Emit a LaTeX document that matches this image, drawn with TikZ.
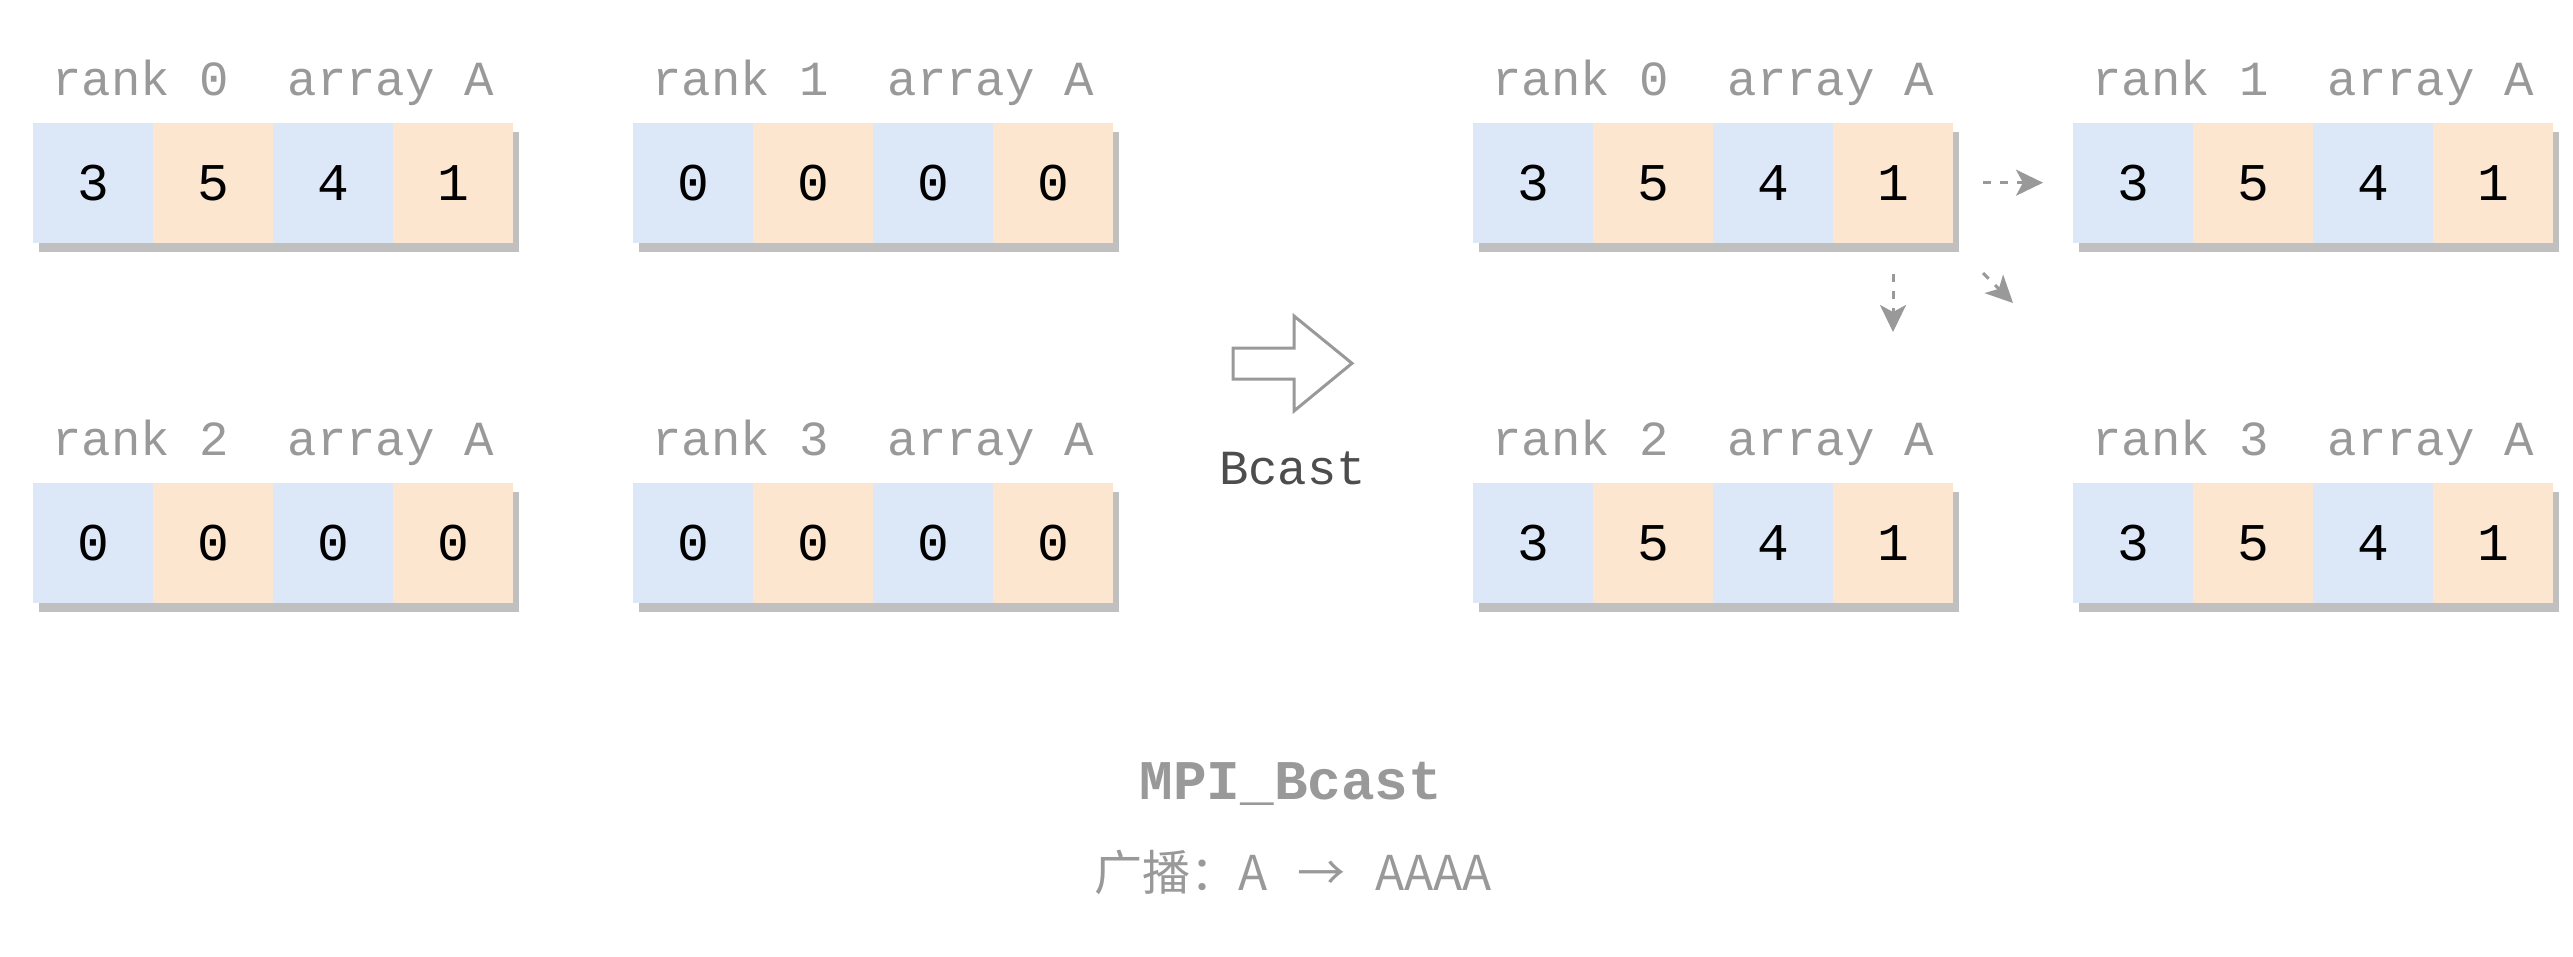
\documentclass[tikz,border=0pt]{standalone}
\usepackage{fontspec}
\usetikzlibrary{arrows.meta}
\newfontfamily\monofont{Liberation Mono}
\newfontfamily\cjkfont{Noto Sans CJK SC}
\definecolor{cellblue}{HTML}{DCE7F8}
\definecolor{cellorange}{HTML}{FCE6CF}
\definecolor{shadowgray}{HTML}{C0C0C0}
\definecolor{textgray}{HTML}{999999}
\definecolor{darktext}{HTML}{4D4D4D}

\newcommand\rankrow[5]{% #1 name, #2 x, #3 top y, #4 rank, #5 values
  \fill[shadowgray] (#2+6,#3+9) rectangle (#2+486,#3+129);
  \foreach \v [count=\i from 0] in {#5} {
    \pgfmathsetmacro\cx{#2+120*\i}
    \ifodd\i\relax \def\cc{cellorange}\else \def\cc{cellblue}\fi
    \node[cellstyle, fill=\cc] (#1c\i) at (\cx,#3) {\v};
  }
  \node[labelstyle] (#1lab) at (#2+240,#3-28) {rank~#4~~array~A};
}

\begin{document}
\begin{tikzpicture}[x=1pt,y=-1pt,
  cellstyle/.style={minimum width=120pt, minimum height=120pt, inner sep=0pt,
    outer sep=0pt, anchor=north west, text=black,
    font=\monofont\fontsize{53}{53}\selectfont},
  labelstyle/.style={anchor=base, inner sep=0pt, text=textgray,
    font=\monofont\fontsize{49}{49}\selectfont},
  dasharrow/.style={draw=textgray, line width=3pt, dash pattern=on 8pt off 9pt,
    -{Stealth[length=27pt,width=26pt,inset=7pt,fill=textgray]}}
]
\fill[white] (0,0) rectangle (2573,956);
\useasboundingbox (0,0) rectangle (2573,956);

% left side (before)
\rankrow{La}{33}{123}{0}{3,5,4,1}
\rankrow{Lb}{633}{123}{1}{0,0,0,0}
\rankrow{Lc}{33}{483}{2}{0,0,0,0}
\rankrow{Ld}{633}{483}{3}{0,0,0,0}

% right side (after)
\rankrow{Ra}{1473}{123}{0}{3,5,4,1}
\rankrow{Rb}{2073}{123}{1}{3,5,4,1}
\rankrow{Rc}{1473}{483}{2}{3,5,4,1}
\rankrow{Rd}{2073}{483}{3}{3,5,4,1}

% big hollow arrow
\draw[textgray, line width=3pt, line join=miter]
  (1233,348) -- (1294,348) -- (1294,316) -- (1352,363.3) -- (1294,411)
  -- (1294,379) -- (1233,379) -- cycle;
\node[anchor=base, inner sep=0pt, text=darktext,
  font=\monofont\fontsize{49}{49}\selectfont] (bcast) at (1292.5,484) {Bcast};

% broadcast dashed arrows
\coordinate (hs) at (1983,182.7);
\coordinate (he) at (2043,182.7);
\coordinate (vs) at (1893,274);
\coordinate (ve) at (1893,332);
\coordinate (ds) at (1983,273);
\coordinate (de) at (2013,303);
\draw[dasharrow] (hs) -- (he);
\draw[dasharrow] (vs) -- (ve);
\draw[dasharrow] (ds) -- (de);

% captions
\node[anchor=base, inner sep=0pt, text=textgray,
  font=\monofont\bfseries\fontsize{56}{56}\selectfont] (title) at (1291,799) {MPI\_Bcast};
\node[anchor=base, inner sep=0pt, text=textgray,
  font=\cjkfont\fontsize{48}{48}\selectfont] (caption) at (1293,890)
  {广播：A\hspace{30pt}→\hspace{30pt}AAAA};
\end{tikzpicture}
\end{document}
